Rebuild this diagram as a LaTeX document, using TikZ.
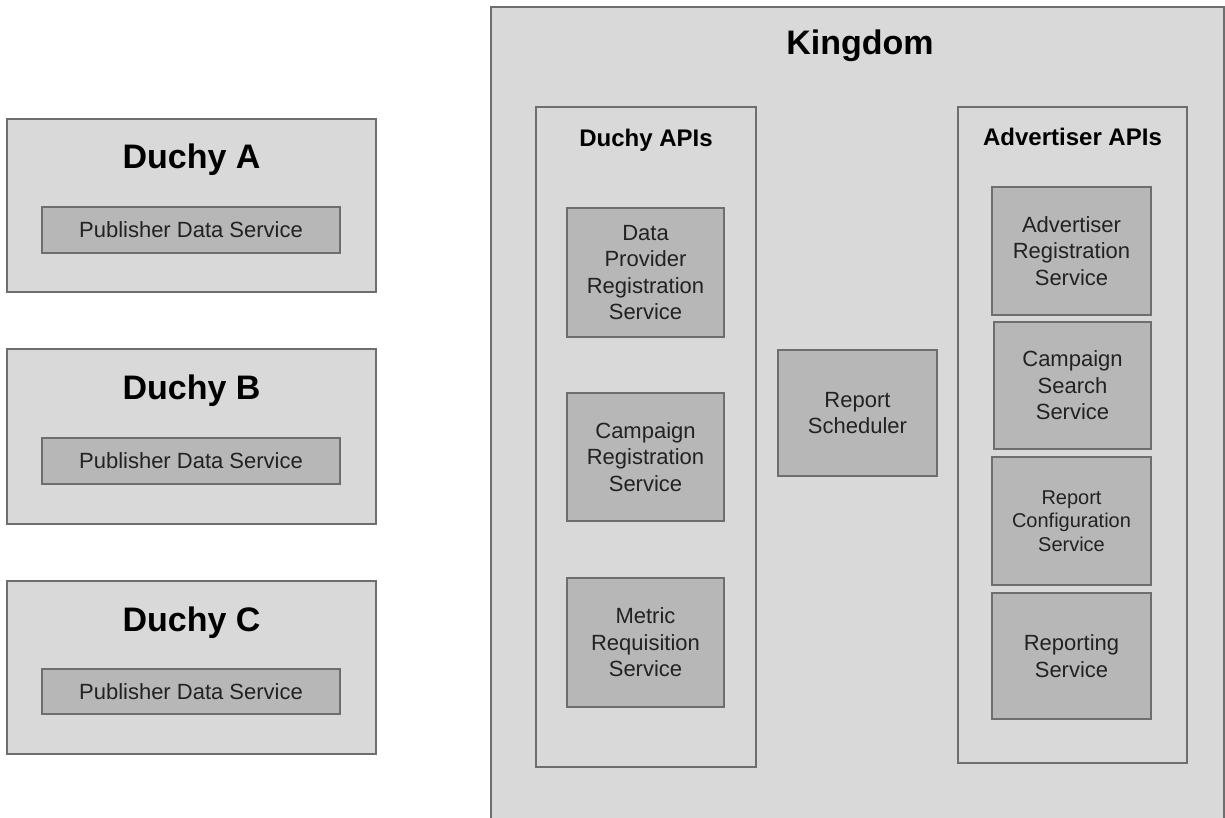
\documentclass[tikz,border=0pt]{standalone}
\usepackage{fontspec}
\setmainfont{Liberation Sans}
\definecolor{outerfill}{HTML}{D9D9D9}
\definecolor{innerfill}{HTML}{B7B7B7}
\definecolor{edge}{HTML}{6E6E6E}
\definecolor{svctext}{HTML}{222222}
\begin{document}
\begin{tikzpicture}[x=1pt,y=-1pt,
  panel/.style={rectangle, draw=edge, line width=1.5pt, fill=outerfill, inner sep=0pt},
  svc/.style={rectangle, draw=edge, line width=1.5pt, fill=innerfill, inner sep=0pt,
    align=center, text=svctext, font=\fontsize{22}{26.5}\selectfont},
  smallsvc/.style={svc, font=\fontsize{20}{23.5}\selectfont},
  bigtitle/.style={anchor=base, font=\fontsize{34}{40}\selectfont\bfseries},
  paneltitle/.style={anchor=base, font=\fontsize{24}{28}\selectfont\bfseries}]

\useasboundingbox[fill=white] (0,0) rectangle (1225,818);

% Duchies on the left
\node[panel, minimum width=369, minimum height=173] (duchyA) at (191.5,205.5) {};
\node[bigtitle] (duchyAtitle) at (191.5,169) {Duchy A};
\node[svc, minimum width=298, minimum height=46] (pdsA) at (191,230) {Publisher Data Service};

\node[panel, minimum width=369, minimum height=175] (duchyB) at (191.5,436.5) {};
\node[bigtitle] (duchyBtitle) at (191.5,399) {Duchy B};
\node[svc, minimum width=298, minimum height=46] (pdsB) at (191,461) {Publisher Data Service};

\node[panel, minimum width=369, minimum height=173] (duchyC) at (191.5,667.5) {};
\node[bigtitle] (duchyCtitle) at (191.5,631) {Duchy C};
\node[svc, minimum width=298, minimum height=45] (pdsC) at (191,691.5) {Publisher Data Service};

% Kingdom (runs past the lower edge)
\node[panel, minimum width=733, minimum height=840] (kingdom) at (857.5,427) {};
\node[bigtitle] (kingdomtitle) at (860,55) {Kingdom};

% Duchy APIs
\node[panel, minimum width=220, minimum height=660] (duchyapis) at (646,437) {};
\node[paneltitle] (duchyapistitle) at (646,147) {Duchy APIs};
\node[svc, minimum width=157, minimum height=129] (dpreg) at (645.5,272.5) {Data\\Provider\\Registration\\Service};
\node[svc, minimum width=157, minimum height=128] (campreg) at (645.5,457) {Campaign\\Registration\\Service};
\node[svc, minimum width=157, minimum height=129] (metricreq) at (645.5,642.5) {Metric\\Requisition\\Service};

% Report Scheduler
\node[svc, minimum width=159, minimum height=126] (scheduler) at (857.5,413) {Report\\Scheduler};

% Advertiser APIs
\node[panel, minimum width=229, minimum height=656] (advapis) at (1072.5,435) {};
\node[paneltitle] (advapistitle) at (1072.5,146) {Advertiser APIs};
\node[svc, minimum width=159, minimum height=128] (advreg) at (1071.5,251) {Advertiser\\Registration\\Service};
\node[svc, minimum width=157, minimum height=127] (campsearch) at (1072.5,385.5) {Campaign\\Search\\Service};
\node[smallsvc, minimum width=159, minimum height=128] (repconf) at (1071.5,521) {Report\\Configuration\\Service};
\node[svc, minimum width=159, minimum height=126] (reporting) at (1071.5,656) {Reporting\\Service};
\end{tikzpicture}
\end{document}
